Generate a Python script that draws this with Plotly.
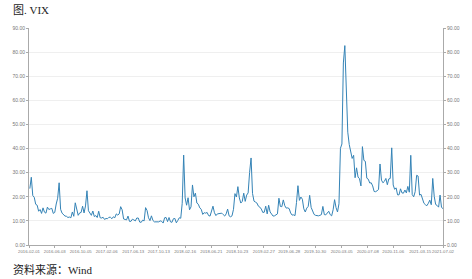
import pandas as pd
import plotly.graph_objects as go

# Weekly VIX readings (Fridays)
vix_2016 = [23.4, 28.1, 20.5, 19.8,
            16.9, 16.5, 14.0, 14.7,
            13.1, 15.4, 13.6, 13.2, 15.7,
            14.7, 15.0, 15.2, 13.1,
            13.5, 17.0, 19.4, 25.8,
            14.8, 13.2, 12.7, 12.0, 11.9,
            11.4, 11.6, 11.3, 13.7,
            11.9, 17.5, 15.4, 12.3, 13.3,
            13.5, 16.1, 13.3, 16.2,
            22.5, 14.2, 12.9, 12.3,
            14.1, 11.8, 12.2, 11.4, 14.0]
vix_2017 = [11.3, 11.2, 11.5, 10.6,
            11.0, 10.9, 11.5, 11.5,
            10.9, 11.7, 11.3, 12.9, 12.4,
            12.9, 15.9, 14.6, 10.8,
            10.6, 10.4, 12.0, 9.8,
            9.8, 10.7, 10.4, 10.0, 11.2,
            11.2, 9.5, 9.4, 10.3,
            10.0, 15.5, 14.3, 11.3,
            10.1, 12.1, 10.2, 9.6, 9.5,
            9.7, 9.6, 10.0, 9.8,
            9.1, 11.3, 11.4, 9.7,
            11.4, 9.6, 9.4, 10.9, 11.0]
vix_2018 = [9.2, 10.2, 11.3, 11.1,
            17.3, 37.3, 19.5, 16.5,
            19.6, 14.6, 15.8, 24.9, 20.0,
            21.5, 17.4, 16.9, 15.4,
            14.8, 12.7, 13.4, 13.2,
            13.5, 12.2, 12.0, 13.8, 16.1,
            13.4, 12.2, 12.9, 13.0,
            13.0, 13.2, 12.6, 12.0, 12.9,
            14.9, 12.1, 11.7, 12.1,
            14.8, 21.3, 19.9, 24.2,
            19.5, 17.4, 18.1, 21.5, 18.1,
            20.7, 21.6, 30.1, 36.1]
vix_2019 = [21.4, 18.2, 17.8, 17.4,
            16.1, 15.7, 14.9, 13.5,
            13.6, 16.1, 12.9, 16.5, 13.7,
            13.0, 12.0, 12.1, 12.7,
            12.9, 19.4, 16.0, 15.9, 18.7,
            16.3, 15.3, 15.4, 15.1,
            13.3, 12.4, 12.5, 12.2,
            17.6, 24.6, 18.5, 19.9, 19.0,
            15.0, 13.7, 15.3, 16.0,
            20.6, 15.6, 14.3, 12.7,
            12.3, 12.1, 12.1, 12.3, 12.6,
            16.0, 12.6, 12.5, 13.4]
vix_2020 = [14.0, 12.6, 12.1, 14.6, 18.8,
            15.5, 13.7, 17.1, 40.1,
            41.9, 75.5, 82.7, 65.5,
            46.8, 41.7, 38.2, 35.9,
            37.2, 27.9, 32.0, 28.2, 27.5,
            24.5, 40.8, 35.1, 34.7,
            27.7, 27.3, 25.7, 25.8, 24.5,
            22.2, 22.1, 22.5, 23.0,
            33.6, 26.9, 25.8, 26.4,
            27.6, 25.0, 27.4, 27.6, 40.3,
            24.9, 23.1, 23.7, 20.8,
            20.8, 23.3, 21.6, 21.5]
vix_2021 = [22.8, 21.6, 24.3, 21.9, 37.2,
            20.9, 20.0, 22.1, 28.9,
            28.6, 20.7, 21.0, 18.9,
            17.3, 16.7, 16.3, 17.3, 18.6,
            16.7, 27.6, 20.2, 16.8,
            16.4, 15.7, 20.7, 15.6,
            15.1]

vix = vix_2016 + vix_2017 + vix_2018 + vix_2019 + vix_2020 + vix_2021
dates = pd.date_range("2016-02-05", periods=len(vix), freq="W-FRI")

tick_dates = ["2016-02-01", "2016-06-03", "2016-10-05", "2017-02-06", "2017-06-13",
              "2017-10-13", "2018-02-16", "2018-06-21", "2018-10-23", "2019-02-27",
              "2019-06-28", "2019-10-30", "2020-03-05", "2020-07-08", "2020-11-06",
              "2021-03-15", "2021-07-02"]
y_ticks = list(range(0, 91, 10))

title_text = "图. VIX"
source_text = "资料来源：Wind"

fig = go.Figure()
fig.add_trace(go.Scatter(x=dates, y=vix, mode="lines",
                         line=dict(color="#3483b6", width=1),
                         showlegend=False, hoverinfo="skip"))
fig.add_trace(go.Scatter(x=dates, y=vix, mode="lines", yaxis="y2",
                         line=dict(color="rgba(0,0,0,0)", width=0),
                         showlegend=False, hoverinfo="skip"))

tickfont = dict(family="Liberation Sans, Arial", size=5, color="#777")
xtickfont = dict(family="Liberation Sans, Arial", size=4.3, color="#777")
fig.update_layout(
    width=472, height=279,
    margin=dict(l=20, r=16, t=28, b=34),
    paper_bgcolor="white", plot_bgcolor="white",
    xaxis=dict(type="date", range=["2016-02-01", "2021-07-02"],
               tickvals=tick_dates, ticktext=tick_dates, tickangle=0,
               showline=True, linecolor="#aaa", linewidth=1,
               ticks="outside", ticklen=2, tickcolor="#aaa",
               showgrid=False, zeroline=False, tickfont=xtickfont),
    yaxis=dict(range=[0, 90], tickvals=y_ticks,
               ticktext=[f"{v:.2f}" for v in y_ticks],
               showline=True, linecolor="#aaa", linewidth=1,
               ticks="outside", ticklen=2, tickcolor="#aaa",
               showgrid=True, gridcolor="#efefef", zeroline=False,
               tickfont=tickfont),
    yaxis2=dict(range=[0, 90], tickvals=y_ticks,
                ticktext=[f"{v:.2f}" for v in y_ticks],
                overlaying="y", side="right",
                showline=True, linecolor="#aaa", linewidth=1,
                ticks="outside", ticklen=2, tickcolor="#aaa",
                showgrid=False, zeroline=False, tickfont=tickfont),
    annotations=[
        dict(text=title_text, x=0, y=1, xref="paper", yref="paper",
             xanchor="left", yanchor="top", showarrow=False, xshift=-18, yshift=26,
             font=dict(family="Liberation Serif, Noto Sans CJK SC", size=11, color="#222")),
        dict(text=source_text, x=0, y=0, xref="paper", yref="paper",
             xanchor="left", yanchor="top", showarrow=False, xshift=-18, yshift=-16,
             font=dict(family="Liberation Serif, Noto Sans CJK SC", size=11, color="#222")),
    ],
)

fig.write_html("out.html")
